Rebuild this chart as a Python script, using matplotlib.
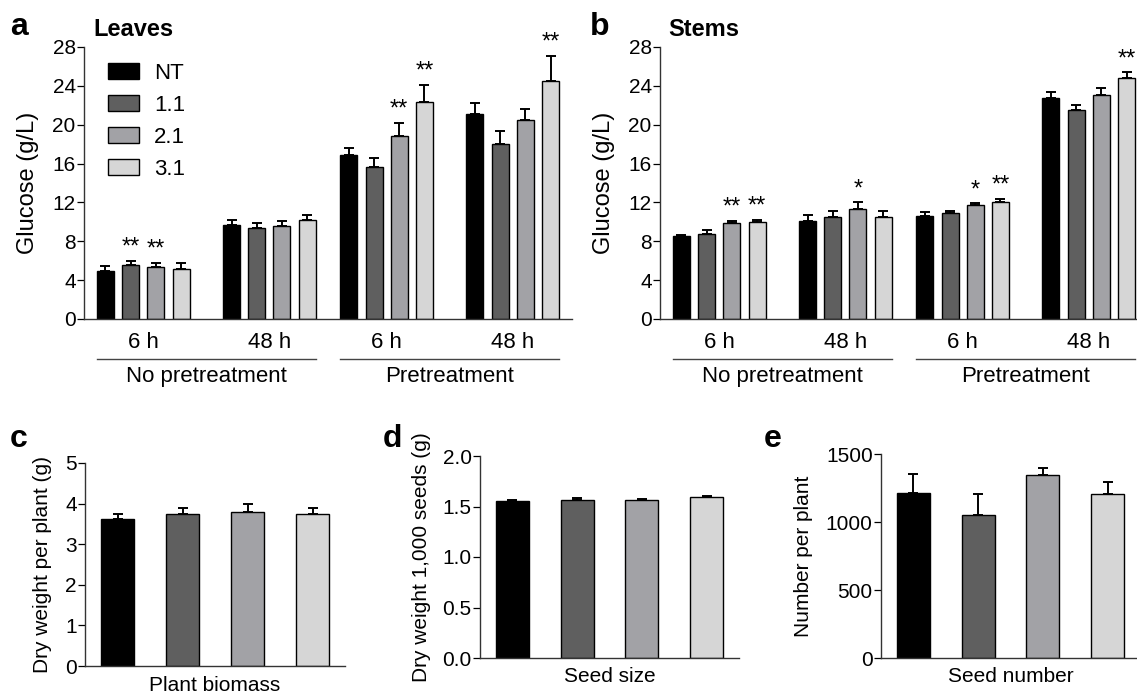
import numpy as np
import matplotlib
matplotlib.use('Agg')
import matplotlib.pyplot as plt
from matplotlib.lines import Line2D
import matplotlib.transforms as mtransforms

plt.rcParams['font.family'] = ['Liberation Sans', 'DejaVu Sans']

# data
series = ['NT', '1.1', '2.1', '3.1']
colors = ['#000000', '#5f5f5f', '#a2a2a6', '#d6d6d6']
groups = ['6 h', '48 h', '6 h', '48 h']
treatments = ['No pretreatment', 'Pretreatment']

# rows = series (NT, 1.1, 2.1, 3.1), columns = groups
leaves_mean = [[4.9, 9.7, 16.9, 21.1],
               [5.6, 9.35, 15.6, 18.0],
               [5.4, 9.6, 18.8, 20.5],
               [5.1, 10.2, 22.3, 24.5]]
leaves_err = [[0.6, 0.5, 0.7, 1.1],
              [0.4, 0.55, 1.0, 1.4],
              [0.4, 0.5, 1.4, 1.1],
              [0.7, 0.5, 1.8, 2.6]]
leaves_sig = [['', '', '', ''],
              ['**', '', '', ''],
              ['**', '', '**', ''],
              ['', '', '**', '**']]

stems_mean = [[8.5, 10.1, 10.6, 22.75],
              [8.8, 10.5, 10.9, 21.5],
              [9.85, 11.3, 11.7, 23.1],
              [9.95, 10.5, 12.0, 24.85]]
stems_err = [[0.15, 0.6, 0.38, 0.6],
             [0.35, 0.6, 0.2, 0.5],
             [0.25, 0.7, 0.2, 0.65],
             [0.27, 0.6, 0.37, 0.55]]
stems_sig = [['', '', '', ''],
             ['', '', '', ''],
             ['**', '*', '*', ''],
             ['**', '', '**', '**']]

biomass = [3.62, 3.74, 3.80, 3.75]
biomass_err = [0.13, 0.16, 0.18, 0.13]
seed_size = [1.55, 1.565, 1.56, 1.595]
seed_size_err = [0.01, 0.015, 0.015, 0.012]
seed_number = [1215, 1050, 1345, 1205]
seed_number_err = [135, 155, 50, 88]

W, H = 1137, 698
fig = plt.figure(figsize=(W / 100, H / 100), dpi=100)


def px_axes(left, top, right, bottom):
    return fig.add_axes([left / W, 1 - bottom / H, (right - left) / W, (bottom - top) / H])


def style(ax):
    for s in ['top', 'right']:
        ax.spines[s].set_visible(False)
    for s in ['left', 'bottom']:
        ax.spines[s].set_linewidth(1.0)
        ax.spines[s].set_color('#333333')
    ax.tick_params(axis='y', direction='out', length=5, width=0.9, labelsize=15, pad=1)
    ax.tick_params(axis='x', length=0, labelbottom=False)


group_x = np.array([0, 1, 1.93, 2.93])
pitch = 0.2
bw = 0.135
err_kw = dict(ecolor='black', elinewidth=1.4, capsize=3.5, capthick=1.4)


def glucose_panel(ax, means, errs, sigs):
    for i, name in enumerate(series):
        xs = group_x + (i - 1.5) * pitch
        ax.bar(xs, means[i], width=bw, color=colors[i], edgecolor='black',
               linewidth=1.0, label=name, zorder=2)
        ax.errorbar(xs, means[i], yerr=[np.zeros(4), errs[i]], fmt='none', zorder=3, **err_kw)
        for j in range(4):
            if sigs[i][j]:
                ax.text(xs[j], means[i][j] + errs[i][j] + 0.2, sigs[i][j],
                        ha='center', va='bottom', fontsize=17)
    ax.set_ylim(0, 28)
    ax.set_yticks(range(0, 29, 4))
    ax.set_xlim(-0.47, 3.40)
    style(ax)
    ax.set_ylabel('Glucose (g/L)', fontsize=17)
    ax.yaxis.label.set_va('center')
    ax.yaxis.set_label_coords(-0.115, 0.5)
    trans = mtransforms.blended_transform_factory(ax.transData, ax.transAxes)
    for j, g in enumerate(groups):
        ax.text(group_x[j], -0.088, g, transform=trans, ha='center', va='center', fontsize=16)
    for k, t in enumerate(treatments):
        x0 = group_x[2 * k] - 1.5 * pitch - bw / 2
        x1 = group_x[2 * k + 1] + 1.5 * pitch + bw / 2
        ax.add_line(Line2D([x0, x1], [-0.147, -0.147], transform=trans, color='#444444',
                           lw=1.0, clip_on=False))
        ax.text((x0 + x1) / 2, -0.21, t, transform=trans, ha='center', va='center', fontsize=16)


ax_a = px_axes(84, 47, 572, 319)
glucose_panel(ax_a, leaves_mean, leaves_err, leaves_sig)
ax_a.legend(loc='upper left', bbox_to_anchor=(0.03, 0.975), frameon=False, fontsize=16,
            handlelength=1.4, handleheight=0.75, labelspacing=0.5, handletextpad=0.7,
            borderaxespad=0)

ax_b = px_axes(660, 47, 1148, 319)
glucose_panel(ax_b, stems_mean, stems_err, stems_sig)


def small_panel(ax, vals, errs, ylim, yticks, fmt, ylabel, xlabel, ylab_x, xlab_y):
    xs = np.arange(4)
    ax.bar(xs, vals, width=0.51, color=colors, edgecolor='black', linewidth=1.0, zorder=2)
    ax.errorbar(xs, vals, yerr=[np.zeros(4), errs], fmt='none', zorder=3, **err_kw)
    ax.set_xlim(-0.5, 3.5)
    ax.set_ylim(*ylim)
    ax.set_yticks(yticks)
    ax.set_yticklabels([fmt.format(v) for v in yticks])
    style(ax)
    ax.set_ylabel(ylabel, fontsize=15)
    ax.yaxis.label.set_va('center')
    ax.yaxis.set_label_coords(ylab_x, 0.5)
    ax.set_xlabel(xlabel, fontsize=15)
    ax.xaxis.set_label_coords(0.5, xlab_y)
    ax.xaxis.label.set_va('center')


ax_c = px_axes(85, 463, 345, 666)
small_panel(ax_c, biomass, biomass_err, (0, 5), [0, 1, 2, 3, 4, 5], '{:g}',
            'Dry weight per plant (g)', 'Plant biomass', -0.162, -0.095)

ax_d = px_axes(480, 456, 739, 658)
small_panel(ax_d, seed_size, seed_size_err, (0, 2.0), [0, 0.5, 1.0, 1.5, 2.0], '{:.1f}',
            'Dry weight 1,000 seeds (g)', 'Seed size', -0.224, -0.09)

ax_e = px_axes(881, 454, 1140, 658)
small_panel(ax_e, seed_number, seed_number_err, (0, 1500), [0, 500, 1000, 1500], '{:d}',
            'Number per plant', 'Seed number', -0.30, -0.09)

# panel letters and titles
for letter, x, y in [('a', 10, 27), ('b', 590, 27), ('c', 10, 439), ('d', 383, 439), ('e', 764, 439)]:
    fig.text(x / W, 1 - y / H, letter, fontsize=23, fontweight='bold', ha='left', va='center')
fig.text(93 / W, 1 - 29 / H, 'Leaves', fontsize=17, fontweight='bold', ha='left', va='center')
fig.text(668 / W, 1 - 29 / H, 'Stems', fontsize=17, fontweight='bold', ha='left', va='center')

fig.savefig('out.png', dpi=100)
